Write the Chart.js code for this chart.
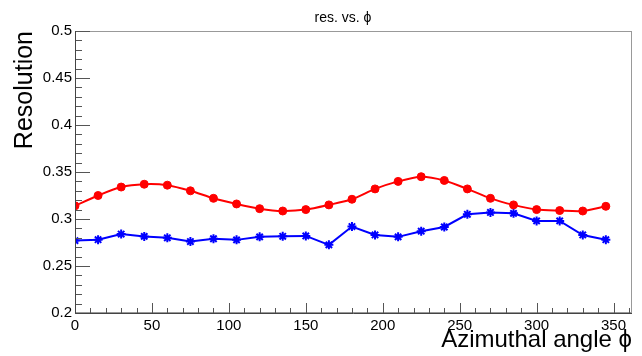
<!DOCTYPE html>
<html>
<head>
<meta charset="utf-8">
<script src="https://cdn.jsdelivr.net/npm/chart.js@4.4.1/dist/chart.umd.min.js"></script>
<style>
  html, body { margin: 0; padding: 0; background: #fff; }
</style>
</head>
<body>
<canvas id="res" width="642" height="356"></canvas>
<script>
// azimuthal bins (deg) and resolution per bin for the two samples
const PHI = [0, 15, 30, 45, 60, 75, 90, 105, 120, 135, 150, 165,
             180, 195, 210, 225, 240, 255, 270, 285, 300, 315, 330, 345];
const RES_RED = [0.314, 0.325, 0.334, 0.337, 0.336, 0.330, 0.322, 0.316, 0.311, 0.3085, 0.310, 0.315,
                 0.321, 0.332, 0.340, 0.345, 0.341, 0.332, 0.322, 0.315, 0.310, 0.309, 0.3085, 0.3135];
const RES_BLUE = [0.277, 0.278, 0.284, 0.2815, 0.280, 0.276, 0.279, 0.2778, 0.281, 0.2816, 0.282, 0.2725,
                  0.292, 0.283, 0.281, 0.287, 0.2915, 0.305, 0.307, 0.306, 0.298, 0.298, 0.283, 0.278];

const X_RANGE = [0, 362];
const Y_RANGE = [0.2, 0.5];
const X_STEP = 50, X_MINOR = 10;
const Y_STEP = 0.05, Y_MINOR = 0.01;

const FONT = '"Liberation Sans", Arial, Helvetica, sans-serif';

const toPoints = (ys) => PHI.map((x, i) => ({ x, y: ys[i] }));

// ROOT-like frame: box, inward major/minor ticks, title on top
const rootFrame = {
  id: 'rootFrame',
  afterDatasetsDraw(chart) {
    const { ctx, chartArea: a, scales: { x, y } } = chart;
    ctx.save();
    ctx.lineWidth = 1;

    ctx.strokeStyle = '#999';
    ctx.strokeRect(a.left + 0.5, a.top + 0.5, a.right - a.left - 1, a.bottom - a.top - 1);

    ctx.strokeStyle = '#555';
    ctx.beginPath();
    const nx = Math.round((X_RANGE[1] - X_RANGE[0]) / X_MINOR);
    for (let i = 0; i <= nx; i++) {
      const v = X_RANGE[0] + i * X_MINOR;
      const px = Math.round(x.getPixelForValue(v)) + 0.5;
      const len = (v % X_STEP === 0) ? 10 : 5;
      ctx.moveTo(px, a.bottom);
      ctx.lineTo(px, a.bottom - len);
    }
    const ny = Math.round((Y_RANGE[1] - Y_RANGE[0]) / Y_MINOR);
    for (let i = 0; i <= ny; i++) {
      const v = Y_RANGE[0] + i * Y_MINOR;
      const py = Math.round(y.getPixelForValue(v)) + 0.5;
      const len = (i % 5 === 0) ? 15 : 7;
      ctx.moveTo(a.left, py);
      ctx.lineTo(a.left + len, py);
    }
    ctx.stroke();

    ctx.strokeStyle = '#444';
    ctx.beginPath();
    ctx.moveTo(a.left + 0.5, a.top);
    ctx.lineTo(a.left + 0.5, a.bottom + 0.5);
    ctx.lineTo(a.right, a.bottom + 0.5);
    ctx.stroke();

    ctx.fillStyle = '#000';
    ctx.font = '14px ' + FONT;
    ctx.textAlign = 'center';
    ctx.textBaseline = 'alphabetic';
    ctx.fillText('res. vs. \u03d5', 343, 22);
    ctx.restore();
  }
};

new Chart(document.getElementById('res'), {
  type: 'line',
  data: {
    datasets: [
      {
        data: toPoints(RES_RED),
        borderColor: '#ff0000',
        backgroundColor: '#ff0000',
        borderWidth: 2,
        pointStyle: 'circle',
        pointRadius: 4,
        pointBorderWidth: 1,
        tension: 0.25,
      },
      {
        data: toPoints(RES_BLUE),
        borderColor: '#0000ff',
        backgroundColor: '#0000ff',
        borderWidth: 2,
        pointStyle: 'star',
        pointRadius: 4.5,
        pointBorderWidth: 2,
        tension: 0,
      },
    ],
  },
  options: {
    responsive: false,
    animation: false,
    devicePixelRatio: 1,
    layout: { padding: { top: 31, right: 10, left: 0, bottom: 0 } },
    plugins: { legend: { display: false }, tooltip: { enabled: false } },
    scales: {
      x: {
        type: 'linear',
        min: X_RANGE[0],
        max: X_RANGE[1],
        grid: { display: false, drawTicks: false },
        border: { display: false },
        ticks: {
          stepSize: X_STEP,
          includeBounds: false,
          maxRotation: 0,
          autoSkip: false,
          padding: 4,
          color: '#000',
          font: { family: FONT, size: 15 },
        },
        title: {
          display: true,
          text: 'Azimuthal angle \u03d5',
          align: 'end',
          color: '#000',
          font: { family: FONT, size: 24 },
          padding: { top: 0, bottom: 1 },
        },
        afterFit(s) { s.height = 43; },
      },
      y: {
        min: Y_RANGE[0],
        max: Y_RANGE[1],
        grid: { display: false, drawTicks: false },
        border: { display: false },
        ticks: {
          stepSize: Y_STEP,
          padding: 3,
          color: '#000',
          font: { family: FONT, size: 15 },
          callback: (v) => String(+v.toFixed(2)),
        },
        title: {
          display: true,
          text: 'Resolution',
          align: 'end',
          color: '#000',
          font: { family: FONT, size: 25 },
          padding: { top: 10, bottom: 0 },
        },
        afterFit(s) { s.width = 75; },
      },
    },
  },
  plugins: [rootFrame],
});
</script>
</body>
</html>
